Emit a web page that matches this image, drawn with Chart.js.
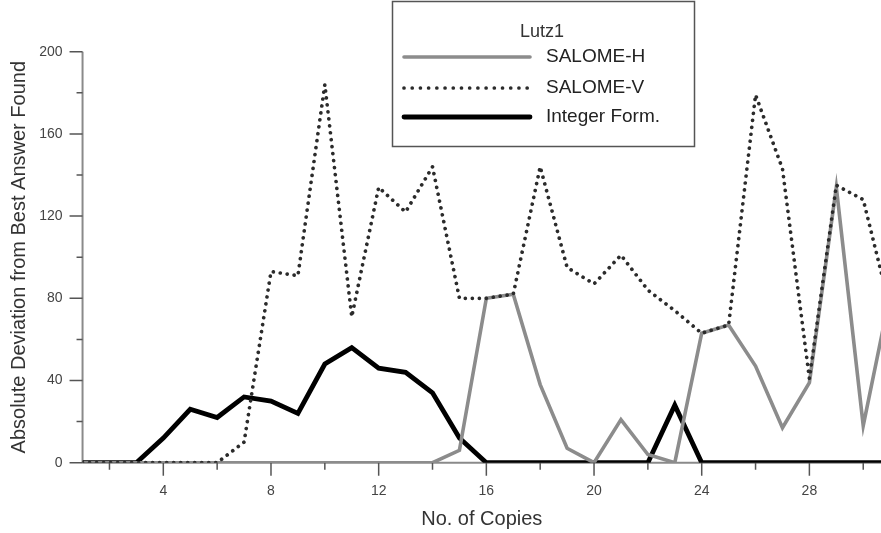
<!DOCTYPE html>
<html>
<head>
<meta charset="utf-8">
<script src="https://cdn.jsdelivr.net/npm/chart.js@4/dist/chart.umd.min.js"></script>
<style>
  html, body { margin: 0; padding: 0; background: #fff; overflow: hidden; }
  canvas { display: block; }
</style>
</head>
<body>
<canvas id="c" width="881" height="533"></canvas>
<script>
// ---- data ----
const legendTitle = "Lutz1";
const xTitle = "No. of Copies";
const yTitle = "Absolute Deviation from Best Answer Found";
const copies = [1,2,3,4,5,6,7,8,9,10,11,12,13,14,15,16,17,18,19,20,21,22,23,24,25,26,27,28,29,30,31];
const salomeH = [0,0,0,0,0,0,0,0,0,0,0,0,0,0,6,80,82,38,7,0,21,4,0,63,67,47,17,39,134,18,82];
const salomeV = [0,0,0,0,0,0,10,93,91,184,71,134,122,144,80,80,82,144,95,87,101,84,74,63,67,179,143,41,135,128,75];
const integerForm = [0,0,0,12,26,22,32,30,24,48,56,46,44,34,12,0,0,0,0,0,0,0,28,0,0,0,0,0,0,0,0];
const xMajorTicks = [4,8,12,16,20,24,28];
const xMinorTicks = [2,6,10,14,18,22,26,30];
const yMajorTicks = [0,40,80,120,160,200];
const yMinorTicks = [20,60,100,140,180];

Chart.defaults.font.family = "'Liberation Sans', Arial, Helvetica, sans-serif";

const toPoints = arr => copies.map((x, i) => ({ x: x, y: arr[i] }));

const legendOrder = ["SALOME-H", "SALOME-V", "Integer Form."];

const axesLegendPlugin = {
  id: 'axesLegend',
  beforeDatasetsDraw(chart) {
    const ctx = chart.ctx;
    const xs = chart.scales.x, ys = chart.scales.y;
    const ca = chart.chartArea;
    const y0 = ys.getPixelForValue(0);
    ctx.save();
    // axis lines
    ctx.strokeStyle = '#8a8a8a';
    ctx.lineWidth = 2;
    ctx.beginPath();
    ctx.moveTo(ca.left, ys.getPixelForValue(200));
    ctx.lineTo(ca.left, y0);
    ctx.moveTo(ca.left, y0);
    ctx.lineTo(ca.right, y0);
    ctx.stroke();
    // tick marks
    ctx.strokeStyle = '#555';
    ctx.lineWidth = 1.5;
    ctx.beginPath();
    xMajorTicks.forEach(v => { const p = xs.getPixelForValue(v); ctx.moveTo(p, y0); ctx.lineTo(p, y0 + 13); });
    xMinorTicks.forEach(v => { const p = xs.getPixelForValue(v); ctx.moveTo(p, y0); ctx.lineTo(p, y0 + 7); });
    yMajorTicks.forEach(v => { const p = ys.getPixelForValue(v); ctx.moveTo(ca.left, p); ctx.lineTo(ca.left - 13, p); });
    yMinorTicks.forEach(v => { const p = ys.getPixelForValue(v); ctx.moveTo(ca.left, p); ctx.lineTo(ca.left - 6, p); });
    ctx.stroke();
    ctx.restore();
  },
  afterDraw(chart) {
    const ctx = chart.ctx;
    ctx.save();
    const bx = 392.5, by = 1.5, bw = 302, bh = 145;
    ctx.fillStyle = '#fff';
    ctx.fillRect(bx, by, bw, bh);
    ctx.strokeStyle = '#555';
    ctx.lineWidth = 1.5;
    ctx.strokeRect(bx, by, bw, bh);
    ctx.fillStyle = '#333';
    ctx.font = "18px 'Liberation Sans', Arial, sans-serif";
    ctx.textAlign = 'center';
    ctx.textBaseline = 'middle';
    ctx.fillText(legendTitle, 542, 32);
    const rowY = [57, 88, 117];
    legendOrder.forEach((label, i) => {
      const ds = chart.data.datasets.find(d => d.label === label);
      ctx.save();
      ctx.strokeStyle = ds.borderColor;
      ctx.lineWidth = ds.borderWidth;
      ctx.lineCap = 'round';
      if (ds.borderDash && ds.borderDash.length) ctx.setLineDash([0.01, 8.2]);
      ctx.beginPath();
      ctx.moveTo(404, rowY[i]);
      ctx.lineTo(530, rowY[i]);
      ctx.stroke();
      ctx.restore();
      ctx.fillStyle = '#222';
      ctx.font = "19px 'Liberation Sans', Arial, sans-serif";
      ctx.textAlign = 'left';
      ctx.textBaseline = 'middle';
      ctx.fillText(label, 546, rowY[i]);
    });
    ctx.restore();
  }
};

new Chart(document.getElementById('c'), {
  type: 'line',
  data: {
    datasets: [
      {
        label: "SALOME-V",
        data: toPoints(salomeV),
        borderColor: '#2b2b2b',
        borderWidth: 3.7,
        borderDash: [0.01, 7],
        borderCapStyle: 'round',
        pointRadius: 0,
        tension: 0,
        order: 0
      },
      {
        label: "SALOME-H",
        data: toPoints(salomeH),
        borderColor: '#8c8c8c',
        borderWidth: 3.6,
        borderJoinStyle: 'miter',
        pointRadius: 0,
        tension: 0,
        order: 1
      },
      {
        label: "Integer Form.",
        data: toPoints(integerForm),
        borderColor: '#000',
        borderWidth: 4.8,
        pointRadius: 0,
        tension: 0,
        order: 2
      }
    ]
  },
  options: {
    responsive: false,
    animation: false,
    events: [],
    layout: { padding: { top: 51.7, right: 0, bottom: 0, left: 0 } },
    plugins: {
      legend: { display: false },
      tooltip: { enabled: false },
      title: { display: false }
    },
    scales: {
      x: {
        type: 'linear',
        min: 1,
        max: 30.66,
        border: { display: false },
        grid: { display: false, drawTicks: false },
        afterBuildTicks: axis => { axis.ticks = xMajorTicks.map(v => ({ value: v })); },
        afterFit: axis => { axis.height = 70.3; axis.paddingLeft = 0; axis.paddingRight = 0; },
        ticks: {
          color: '#444',
          font: { size: 14 },
          padding: 20,
          maxRotation: 0,
          autoSkip: false
        },
        title: {
          display: true,
          text: xTitle,
          color: '#333',
          font: { size: 20 },
          padding: { top: 0, bottom: 2 }
        }
      },
      y: {
        type: 'linear',
        min: 0,
        max: 200,
        border: { display: false },
        grid: { display: false, drawTicks: false },
        afterBuildTicks: axis => { axis.ticks = yMajorTicks.map(v => ({ value: v })); },
        afterFit: axis => { axis.width = 82.55; axis.paddingTop = 0; axis.paddingBottom = 0; },
        ticks: {
          color: '#444',
          font: { size: 14 },
          padding: 20,
          autoSkip: false
        },
        title: {
          display: true,
          text: yTitle,
          color: '#333',
          font: { size: 20 },
          padding: { top: 7, bottom: 0 }
        }
      }
    }
  },
  plugins: [axesLegendPlugin]
});
</script>
</body>
</html>
